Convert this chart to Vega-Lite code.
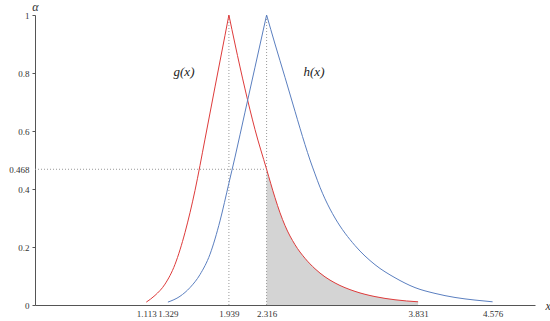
{
  "$schema": "https://vega.github.io/schema/vega-lite/v6.json",
  "width": 500,
  "height": 290,
  "autosize": {"type": "none"},
  "padding": {"left": 35, "top": 15, "right": 15, "bottom": 16},
  "background": "white",
  "config": {
    "view": {"stroke": null},
    "font": "Times New Roman",
    "axis": {"labelFont": "Times New Roman", "titleFont": "Times New Roman", "labelColor": "#333", "domainColor": "#555", "tickColor": "#555", "grid": false}
  },
  "datasets": {
    "curves": [
      {"s": "g", "part": "gL", "x": 1.113, "y": 0.01},
      {"s": "g", "part": "gL", "x": 1.2, "y": 0.033},
      {"s": "g", "part": "gL", "x": 1.3, "y": 0.072},
      {"s": "g", "part": "gL", "x": 1.4, "y": 0.14},
      {"s": "g", "part": "gL", "x": 1.5, "y": 0.25},
      {"s": "g", "part": "gL", "x": 1.6, "y": 0.395},
      {"s": "g", "part": "gL", "x": 1.7, "y": 0.572},
      {"s": "g", "part": "gL", "x": 1.8, "y": 0.752},
      {"s": "g", "part": "gL", "x": 1.9, "y": 0.93},
      {"s": "g", "part": "gL", "x": 1.939, "y": 1.0},
      {"s": "g", "part": "gR", "x": 1.939, "y": 1.0},
      {"s": "g", "part": "gR", "x": 2.0, "y": 0.9},
      {"s": "g", "part": "gR", "x": 2.1, "y": 0.745},
      {"s": "g", "part": "gR", "x": 2.2, "y": 0.605},
      {"s": "g", "part": "gR", "x": 2.316, "y": 0.468},
      {"s": "g", "part": "gR", "x": 2.4, "y": 0.37},
      {"s": "g", "part": "gR", "x": 2.45, "y": 0.318},
      {"s": "g", "part": "gR", "x": 2.5, "y": 0.274},
      {"s": "g", "part": "gR", "x": 2.6, "y": 0.208},
      {"s": "g", "part": "gR", "x": 2.7, "y": 0.161},
      {"s": "g", "part": "gR", "x": 2.8, "y": 0.125},
      {"s": "g", "part": "gR", "x": 2.9, "y": 0.097},
      {"s": "g", "part": "gR", "x": 3.0, "y": 0.076},
      {"s": "g", "part": "gR", "x": 3.2, "y": 0.047},
      {"s": "g", "part": "gR", "x": 3.4, "y": 0.029},
      {"s": "g", "part": "gR", "x": 3.6, "y": 0.018},
      {"s": "g", "part": "gR", "x": 3.831, "y": 0.011},
      {"s": "h", "part": "hL", "x": 1.329, "y": 0.01},
      {"s": "h", "part": "hL", "x": 1.45, "y": 0.03},
      {"s": "h", "part": "hL", "x": 1.55, "y": 0.06},
      {"s": "h", "part": "hL", "x": 1.65, "y": 0.105},
      {"s": "h", "part": "hL", "x": 1.75, "y": 0.175},
      {"s": "h", "part": "hL", "x": 1.85, "y": 0.29},
      {"s": "h", "part": "hL", "x": 1.939, "y": 0.42},
      {"s": "h", "part": "hL", "x": 2.0, "y": 0.51},
      {"s": "h", "part": "hL", "x": 2.1, "y": 0.665},
      {"s": "h", "part": "hL", "x": 2.2, "y": 0.82},
      {"s": "h", "part": "hL", "x": 2.316, "y": 1.0},
      {"s": "h", "part": "hR", "x": 2.316, "y": 1.0},
      {"s": "h", "part": "hR", "x": 2.4, "y": 0.9},
      {"s": "h", "part": "hR", "x": 2.5, "y": 0.785},
      {"s": "h", "part": "hR", "x": 2.6, "y": 0.668},
      {"s": "h", "part": "hR", "x": 2.7, "y": 0.553},
      {"s": "h", "part": "hR", "x": 2.75, "y": 0.5},
      {"s": "h", "part": "hR", "x": 2.8, "y": 0.452},
      {"s": "h", "part": "hR", "x": 2.85, "y": 0.406},
      {"s": "h", "part": "hR", "x": 2.9, "y": 0.366},
      {"s": "h", "part": "hR", "x": 2.95, "y": 0.331},
      {"s": "h", "part": "hR", "x": 3.0, "y": 0.3},
      {"s": "h", "part": "hR", "x": 3.2, "y": 0.205},
      {"s": "h", "part": "hR", "x": 3.4, "y": 0.139},
      {"s": "h", "part": "hR", "x": 3.6, "y": 0.094},
      {"s": "h", "part": "hR", "x": 3.8, "y": 0.06},
      {"s": "h", "part": "hR", "x": 4.0, "y": 0.04},
      {"s": "h", "part": "hR", "x": 4.2, "y": 0.026},
      {"s": "h", "part": "hR", "x": 4.4, "y": 0.017},
      {"s": "h", "part": "hR", "x": 4.576, "y": 0.011}
    ],
    "shade": [
      {"x": 2.316, "y": 0.468},
      {"x": 2.4, "y": 0.37},
      {"x": 2.45, "y": 0.318},
      {"x": 2.5, "y": 0.274},
      {"x": 2.6, "y": 0.208},
      {"x": 2.7, "y": 0.161},
      {"x": 2.8, "y": 0.125},
      {"x": 2.9, "y": 0.097},
      {"x": 3.0, "y": 0.076},
      {"x": 3.2, "y": 0.047},
      {"x": 3.4, "y": 0.029},
      {"x": 3.6, "y": 0.018},
      {"x": 3.831, "y": 0.011}
    ],
    "guides": [
      {"x": 1.939, "x2": 1.939, "y": 0, "y2": 1},
      {"x": 2.316, "x2": 2.316, "y": 0, "y2": 1},
      {"x": 0, "x2": 2.316, "y": 0.468, "y2": 0.468}
    ],
    "labels": [
      {"x": 1.49, "y": 0.805, "t": "g(x)"},
      {"x": 2.79, "y": 0.805, "t": "h(x)"}
    ]
  },
  "layer": [
    {
      "data": {"name": "shade"},
      "mark": {"type": "area", "interpolate": "monotone", "fill": "#b0b0b0", "opacity": 0.55},
      "encoding": {
        "x": {"field": "x", "type": "quantitative", "scale": {"domain": [0, 5], "nice": false},
          "axis": {"values": [1.113, 1.329, 1.939, 2.316, 3.831, 4.576], "format": ".3f", "ticks": false, "labelFontSize": 9, "labelPadding": 4, "title": "x", "titleFontStyle": "italic", "titleFontWeight": "normal", "titleFontSize": 12, "titleX": 510, "titleY": 0, "titleAlign": "left", "titleBaseline": "middle", "titleAngle": 0, "titleColor": "#333"}},
        "y": {"field": "y", "type": "quantitative", "scale": {"domain": [0, 1], "nice": false},
          "axis": {"values": [0, 0.2, 0.4, 0.468, 0.6, 0.8, 1], "labelExpr": "format(datum.value, '~g')", "tickSize": 3, "labelFontSize": 9, "labelPadding": 3,
            "tickOpacity": {"condition": {"test": "datum.value == 0.468", "value": 0}, "value": 1},
            "title": "α", "titleFontStyle": "italic", "titleFontWeight": "normal", "titleFontSize": 12, "titleX": 0, "titleY": -2, "titleAlign": "center", "titleBaseline": "bottom", "titleAngle": 0, "titleColor": "#333"}}
      }
    },
    {
      "data": {"name": "guides"},
      "mark": {"type": "rule", "color": "#999", "strokeDash": [1, 2], "strokeWidth": 1},
      "encoding": {
        "x": {"field": "x", "type": "quantitative"},
        "x2": {"field": "x2"},
        "y": {"field": "y", "type": "quantitative"},
        "y2": {"field": "y2"}
      }
    },
    {
      "data": {"name": "curves"},
      "mark": {"type": "line", "interpolate": "monotone", "strokeWidth": 1},
      "encoding": {
        "x": {"field": "x", "type": "quantitative"},
        "y": {"field": "y", "type": "quantitative"},
        "detail": {"field": "part"},
        "color": {"field": "s", "type": "nominal", "scale": {"domain": ["g", "h"], "range": ["#de3b3b", "#5b7fc0"]}, "legend": null}
      }
    },
    {
      "data": {"name": "labels"},
      "mark": {"type": "text", "font": "Times New Roman", "fontStyle": "italic", "fontSize": 13, "color": "#222"},
      "encoding": {
        "x": {"field": "x", "type": "quantitative"},
        "y": {"field": "y", "type": "quantitative"},
        "text": {"field": "t"}
      }
    }
  ]
}
